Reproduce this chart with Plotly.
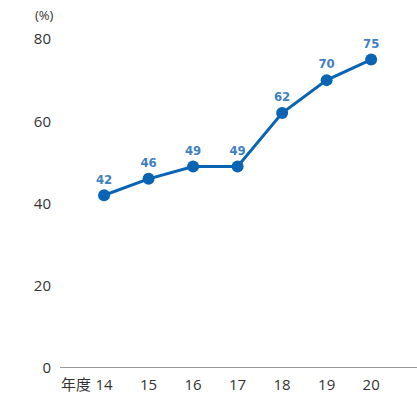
import plotly.graph_objects as go

years = [14, 15, 16, 17, 18, 19, 20]
year_labels = ["14", "15", "16", "17", "18", "19", "20"]
values = [42, 46, 49, 49, 62, 70, 75]
value_labels = ["42", "46", "49", "49", "62", "70", "75"]
y_ticks = [0, 20, 40, 60, 80]

fig = go.Figure()
fig.add_trace(go.Scatter(
    x=years, y=values, mode="lines+markers+text",
    line=dict(color="#0a64b4", width=3),
    marker=dict(color="#0a64b4", size=12),
    text=value_labels, textposition="top center",
    textfont=dict(family="DejaVu Sans Condensed", size=13, color="#3f80c4", weight="bold"),
    cliponaxis=False, hoverinfo="skip",
))

fig.update_layout(
    width=417, height=394,
    margin=dict(l=60, r=0, t=39, b=26),
    plot_bgcolor="white", paper_bgcolor="white",
    showlegend=False,
    xaxis=dict(
        range=[13.01, 21.03], tickmode="array", tickvals=years, ticktext=year_labels,
        showgrid=False, zeroline=False, showline=False, ticks="", ticklabelstandoff=6,
        tickfont=dict(family="Open Sans, Noto Sans", size=15, color="#333333"),
    ),
    yaxis=dict(
        range=[0, 80], tickmode="array", tickvals=y_ticks,
        showgrid=False, zeroline=False, showline=False, ticks="", ticklabelstandoff=8,
        tickfont=dict(family="Open Sans, Noto Sans", size=15, color="#333333"),
    ),
    shapes=[dict(type="line", xref="paper", yref="y", x0=0, x1=1, y0=0, y1=0,
                 line=dict(color="#999999", width=2))],
    annotations=[
        dict(text="(%)", xref="paper", yref="paper", x=-0.012, y=1.0, yshift=13,
             xanchor="right", yanchor="bottom", showarrow=False,
             font=dict(family="Open Sans, Noto Sans", size=13, color="#333333")),
        dict(text="年度", xref="x", yref="paper", x=14, xshift=-12, y=0, yshift=-16,
             xanchor="right", yanchor="middle", showarrow=False, borderpad=0,
             font=dict(family="Open Sans, Noto Sans CJK JP", size=15, color="#333333")),
    ],
)

fig.write_html("out.html")
